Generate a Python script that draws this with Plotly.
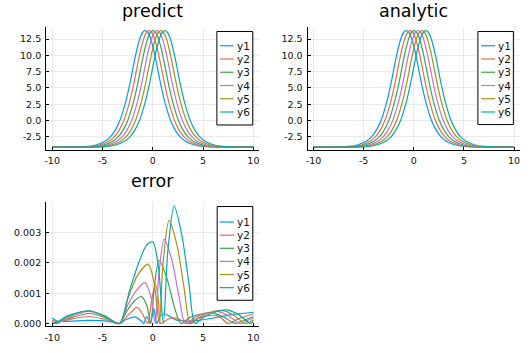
import plotly.graph_objects as go

W, H = 530, 353

series_names = ["y1", "y2", "y3", "y4", "y5", "y6"]
colors = ["#009AFA", "#E36F47", "#3EA44E", "#C371D2", "#AC8E18", "#00AAAE"]

titles = ["predict", "analytic", "error"]
x_tickvals = [-10, -5, 0, 5, 10]
x_ticktext = ["-10", "-5", "0", "5", "10"]
u_tickvals = [-2.5, 0.0, 2.5, 5.0, 7.5, 10.0, 12.5]
u_ticktext = ["-2.5", "0.0", "2.5", "5.0", "7.5", "10.0", "12.5"]
e_tickvals = [0.0, 0.001, 0.002, 0.003]
e_ticktext = ["0.000", "0.001", "0.002", "0.003"]

# soliton profile values (same shape for every series)
soliton_y = [-4.08, -4.06, -3.99, -3.78, -3.17, -2.55, -1.50, 0.10, 2.55, 4.10, 5.85, 7.80,
             9.75, 11.40, 12.75, 13.55, 13.80, 13.55, 12.75, 11.40, 9.75, 7.80, 5.85, 4.10,
             2.55, 0.10, -1.50, -2.55, -3.17, -3.78, -3.99, -4.06, -4.08]

x_y1 = [-10, -7.75, -6.75, -5.75, -4.75, -4.25, -3.75, -3.25, -2.75, -2.5, -2.25, -2.0, -1.75,
        -1.5, -1.25, -1.0, -0.75, -0.5, -0.25, 0.0, 0.25, 0.5, 0.75, 1.0, 1.25, 1.75, 2.25,
        2.75, 3.25, 4.25, 5.25, 6.25, 10]
x_y2 = [-10, -7.36, -6.36, -5.36, -4.36, -3.86, -3.36, -2.86, -2.36, -2.11, -1.86, -1.61, -1.36,
        -1.11, -0.86, -0.61, -0.36, -0.11, 0.14, 0.39, 0.64, 0.89, 1.14, 1.39, 1.64, 2.14, 2.64,
        3.14, 3.64, 4.64, 5.64, 6.64, 10]
x_y3 = [-10, -6.97, -5.97, -4.97, -3.97, -3.47, -2.97, -2.47, -1.97, -1.72, -1.47, -1.22, -0.97,
        -0.72, -0.47, -0.22, 0.03, 0.28, 0.53, 0.78, 1.03, 1.28, 1.53, 1.78, 2.03, 2.53, 3.03,
        3.53, 4.03, 5.03, 6.03, 7.03, 10]
x_y4 = [-10, -6.58, -5.58, -4.58, -3.58, -3.08, -2.58, -2.08, -1.58, -1.33, -1.08, -0.83, -0.58,
        -0.33, -0.08, 0.17, 0.42, 0.67, 0.92, 1.17, 1.42, 1.67, 1.92, 2.17, 2.42, 2.92, 3.42,
        3.92, 4.42, 5.42, 6.42, 7.42, 10]
x_y5 = [-10, -6.19, -5.19, -4.19, -3.19, -2.69, -2.19, -1.69, -1.19, -0.94, -0.69, -0.44, -0.19,
        0.06, 0.31, 0.56, 0.81, 1.06, 1.31, 1.56, 1.81, 2.06, 2.31, 2.56, 2.81, 3.31, 3.81,
        4.31, 4.81, 5.81, 6.81, 7.81, 10]
x_y6 = [-10, -5.8, -4.8, -3.8, -2.8, -2.3, -1.8, -1.3, -0.8, -0.55, -0.3, -0.05, 0.2,
        0.45, 0.7, 0.95, 1.2, 1.45, 1.7, 1.95, 2.2, 2.45, 2.7, 2.95, 3.2, 3.7, 4.2,
        4.7, 5.2, 6.2, 7.2, 8.2, 10]
soliton_x = [x_y1, x_y2, x_y3, x_y4, x_y5, x_y6]

# error curves
err_x_y1 = [-10, -9.5, -8.5, -6.5, -4.5, -3.3, -2.7, -1.8, -1.2, -0.9, -0.6, -0.25, 0.1, 0.4,
            0.7, 1.1, 1.6, 2.3, 3.5, 4.5, 6.0, 8.0, 10]
err_y1 = [0.00018, 0.00008, 0.00007, 0.0001, 0.00008, 0.0, 0.00012, 0.00022, 0.0001, 0.0,
          0.00023, 0.0, 0.0005, 0.0, 0.00022, 0.00032, 0.00025, 0.00012, 0.00008, 0.0001,
          0.00018, 0.0003, 0.00037]
err_x_y2 = [-10, -9.4, -8.0, -6.3, -4.8, -3.3, -2.5, -1.55, -1.0, -0.5, -0.1, 0.27, 0.55, 0.8,
            1.5, 2.3, 3.0, 3.5, 4.5, 5.5, 6.5, 7.5, 8.5, 10]
err_y2 = [0.0001, 0.00005, 0.00015, 0.00023, 0.00014, 0.0, 0.00025, 0.00053, 0.0003, 0.0,
          0.0008, 0.00129, 0.0008, 0.0, 0.00014, 0.00018, 0.00008, 0.0, 0.00017, 0.00026,
          0.00025, 0.0, 0.00015, 0.00032]
err_x_y3 = [-10, -9.7, -8.3, -6.3, -4.8, -3.3, -2.6, -1.8, -1.12, -0.6, -0.2, 0.15, 0.63, 1.4,
            2.1, 2.8, 3.7, 4.9, 5.9, 7.0, 8.2, 9.0, 10]
err_y3 = [0.00005, 0.00002, 0.00017, 0.00033, 0.0002, 0.0, 0.0004, 0.00075, 0.00089, 0.0006,
          0.0, 0.0012, 0.00209, 0.0015, 0.0006, 0.0, 0.0002, 0.00032, 0.00036, 0.00022, 0.0,
          0.0001, 0.00023]
err_x_y4 = [-10, -9.5, -8.3, -6.4, -4.8, -3.3, -2.5, -1.6, -0.79, -0.2, 0.25, 0.6, 1.13, 1.9,
            2.6, 3.25, 4.2, 5.4, 6.4, 7.5, 8.7, 9.4, 10]
err_y4 = [0.00002, 0.0, 0.0002, 0.0004, 0.00024, 0.0, 0.0006, 0.0011, 0.00135, 0.0009, 0.0,
          0.0016, 0.00278, 0.0021, 0.0009, 0.0, 0.0002, 0.00035, 0.0004, 0.00026, 0.0, 0.0001,
          0.00018]
err_x_y5 = [-10, -9.6, -8.5, -6.4, -4.8, -3.3, -2.5, -1.5, -0.46, 0.1, 0.65, 1.0, 1.62, 2.4,
            3.1, 3.75, 4.6, 5.8, 6.9, 8.0, 9.2, 10]
err_y5 = [0.00003, 0.0, 0.00022, 0.00042, 0.00025, 0.0, 0.0008, 0.0016, 0.00196, 0.0014, 0.0,
          0.0019, 0.00341, 0.0026, 0.0012, 0.0, 0.0002, 0.00037, 0.00043, 0.00028, 0.0, 0.00012]
err_x_y6 = [-10, -9.7, -8.5, -6.3, -4.8, -3.3, -2.3, -1.3, -0.6, 0.0, 0.55, 1.05, 1.5, 2.12,
            2.9, 3.6, 4.2, 5.0, 6.2, 7.3, 8.5, 9.7, 10]
err_y6 = [0.00003, 0.0, 0.00025, 0.00042, 0.00025, 0.0, 0.0011, 0.0021, 0.0026, 0.0027, 0.0019,
          0.0, 0.0024, 0.00388, 0.0029, 0.0013, 0.0, 0.0002, 0.00038, 0.00045, 0.0003, 0.0,
          0.00007]
err_x = [err_x_y1, err_x_y2, err_x_y3, err_x_y4, err_x_y5, err_x_y6]
err_y = [err_y1, err_y2, err_y3, err_y4, err_y5, err_y6]

FONT = "DejaVu Sans"

fig = go.Figure()

for i in range(6):
    for ax in ("x", "x2"):
        fig.add_trace(go.Scatter(
            x=soliton_x[i], y=soliton_y, mode="lines", name=series_names[i],
            line=dict(color=colors[i], width=1.2, shape="spline", smoothing=1.0),
            xaxis=ax, yaxis=ax.replace("x", "y"), showlegend=False, hoverinfo="skip"))
    fig.add_trace(go.Scatter(
        x=err_x[i], y=err_y[i], mode="lines", name=series_names[i],
        line=dict(color=colors[i], width=1.2, shape="spline", smoothing=0.8),
        xaxis="x3", yaxis="y3", showlegend=False, hoverinfo="skip"))


def px(xp):
    return xp / W


def py(yp):
    return 1 - yp / H


axis_common = dict(showline=True, linecolor="black", linewidth=1, mirror=False,
                   showgrid=True, gridcolor="rgba(0,0,0,0.08)", gridwidth=0.6,
                   zeroline=False, ticks="inside", ticklen=3, tickcolor="black",
                   tickfont=dict(family=FONT, size=9.5, color="#111"))

panels = [
    (44.3, 258.4, 27.3, 150.7),
    (306.7, 520.0, 27.3, 150.7),
    (44.3, 258.4, 203.3, 328.3),
]

layout = dict(width=W, height=H, margin=dict(l=0, r=0, t=0, b=0),
              paper_bgcolor="white", plot_bgcolor="white", showlegend=False)
for k, (x0, x1, y0, y1) in enumerate(panels):
    sfx = "" if k == 0 else str(k + 1)
    xa = dict(axis_common, domain=[px(x0), px(x1)], range=[-10.6, 10.6],
              tickvals=x_tickvals, ticktext=x_ticktext, anchor="y" + sfx,
              ticklabelstandoff=2)
    if k < 2:
        ya = dict(axis_common, domain=[py(y1), py(y0)], range=[-4.49, 14.33],
                  tickvals=u_tickvals, ticktext=u_ticktext, anchor="x" + sfx,
                  ticklabelstandoff=2)
    else:
        ya = dict(axis_common, domain=[py(y1), py(y0)], range=[-0.0000987, 0.004013],
                  tickvals=e_tickvals, ticktext=e_ticktext, anchor="x" + sfx,
                  ticklabelstandoff=2)
    layout["xaxis" + sfx] = xa
    layout["yaxis" + sfx] = ya
fig.update_layout(**layout)

annotations = []
title_pos = [(151.5, 11.5), (413.3, 11.5), (151.5, 182.5)]
for t, (tx, ty) in zip(titles, title_pos):
    annotations.append(dict(text=t, x=px(tx), y=py(ty), xref="paper", yref="paper",
                            xanchor="center", yanchor="middle", showarrow=False,
                            font=dict(family=FONT, size=17.5, color="black")))

shapes = []
legends = [
    # box x0, x1, y0, y1, first entry y, spacing, line x0, line x1, text x
    (215.7, 251.7, 31.7, 125.7, 46.0, 13.33, 219.0, 232.5, 233.5),
    (477.7, 513.3, 31.7, 125.3, 46.0, 13.33, 481.0, 495.0, 495.8),
    (216.0, 251.7, 207.7, 302.0, 223.3, 13.2, 218.5, 233.0, 233.8),
]
for (bx0, bx1, by0, by1, ey, dy, lx0, lx1, tx) in legends:
    shapes.append(dict(type="rect", xref="paper", yref="paper", x0=px(bx0), x1=px(bx1),
                       y0=py(by1), y1=py(by0), fillcolor="white",
                       line=dict(color="black", width=1), layer="above"))
    for i in range(6):
        yy = ey + i * dy
        shapes.append(dict(type="line", xref="paper", yref="paper", x0=px(lx0), x1=px(lx1),
                           y0=py(yy), y1=py(yy), line=dict(color=colors[i], width=1.2),
                           layer="above"))
        annotations.append(dict(text=series_names[i], x=px(tx), y=py(yy), xref="paper",
                                yref="paper", xanchor="left", yanchor="middle",
                                showarrow=False,
                                font=dict(family=FONT, size=10.5, color="#111")))

fig.update_layout(annotations=annotations, shapes=shapes)
fig.write_html("out.html")
